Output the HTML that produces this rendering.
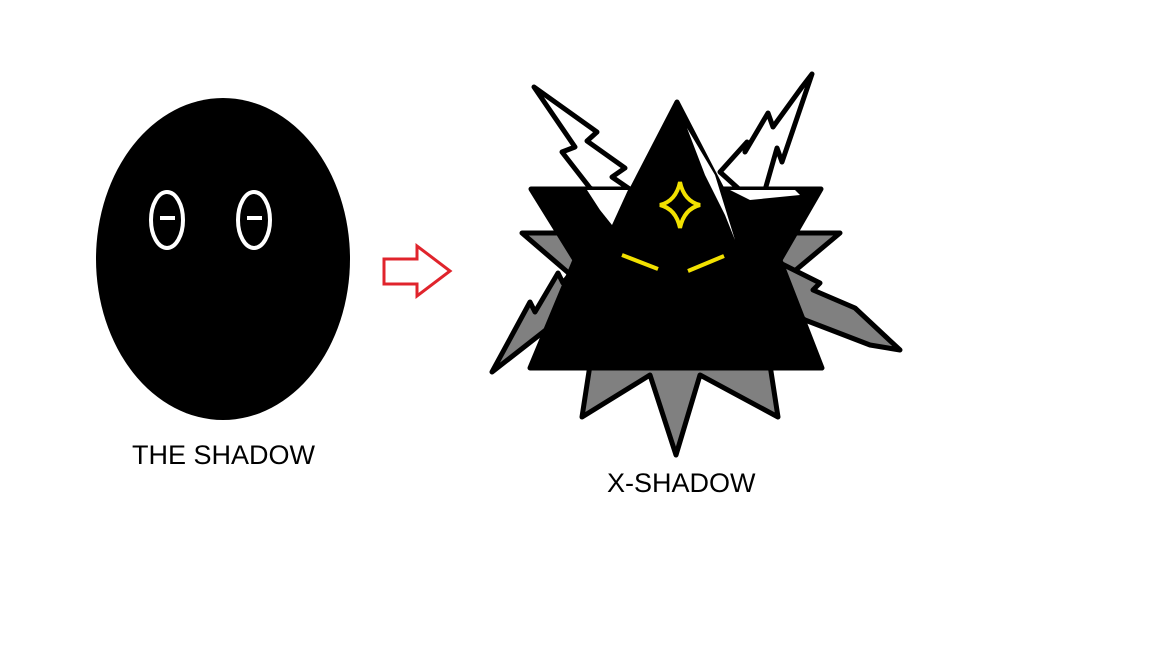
<!DOCTYPE html>
<html><head><style>
body{margin:0;background:#fff;width:1152px;height:648px;overflow:hidden}
svg{position:absolute;left:0;top:0}
</style></head><body>
<svg width="1152" height="648" viewBox="0 0 1152 648">
<ellipse cx="223" cy="259" rx="127" ry="161" fill="#000"/>
<ellipse cx="167" cy="220" rx="16" ry="28" fill="none" stroke="#fff" stroke-width="4"/>
<ellipse cx="254" cy="220" rx="16" ry="28" fill="none" stroke="#fff" stroke-width="4"/>
<line x1="160" y1="218" x2="175" y2="218" stroke="#fff" stroke-width="4"/>
<line x1="247" y1="218" x2="262" y2="218" stroke="#fff" stroke-width="4"/>
<polygon points="384,259 417,259 417,246 450,271 417,296 417,284 384,284" fill="#fff" stroke="#e0242c" stroke-width="3"/>
<text x="132" y="464" font-family="Liberation Sans, sans-serif" font-size="27" fill="#000">THE SHADOW</text>
<text x="607" y="492" font-family="Liberation Sans, sans-serif" font-size="27" fill="#000">X-SHADOW</text>
<g stroke="#000" stroke-width="5" stroke-linejoin="round">
<polygon points="534,87 597,132 587,141 625,168 612,177 650,203 640,212 590,188 562,152 575,147" fill="#fff"/>
<polygon points="812,74 782,162 777,148 765,190 740,190 720,172 747,142 745,152 768,113 773,127 802,87" fill="#fff"/>
<polygon points="522,233 840,233 760,300 778,417 700,375 676,455 650,375 582,417 600,300" fill="#808080"/>
<polygon points="492,372 530,302 535,312 558,273 563,283 590,250 600,300 578,315 580,303 542,333" fill="#808080"/>
<polygon points="900,350 855,308 813,290 820,283 780,263 773,300 798,315 805,320 870,345" fill="#808080"/>
<polygon points="677,102 722,189 821,189 780,260 822,368 530,368 575,260 531,189 632,189" fill="#000"/>
<polygon points="587,190 628,190 612,225 600,210" fill="#fff" stroke="none"/>
<polygon points="687,128 705,175 725,215 735,240 715,175" fill="#fff" stroke="none"/>
<polygon points="730,190 795,190 800,195 750,200" fill="#fff" stroke="none"/>
</g>
<path d="M680,182 Q684,201 700,205 Q684,209 680,228 Q676,209 660,205 Q676,201 680,182Z" fill="none" stroke="#f2e100" stroke-width="4"/>
<line x1="622" y1="255" x2="658" y2="269" stroke="#f2e100" stroke-width="4"/>
<line x1="688" y1="271" x2="724" y2="256" stroke="#f2e100" stroke-width="4"/>
</svg>
</body></html>
